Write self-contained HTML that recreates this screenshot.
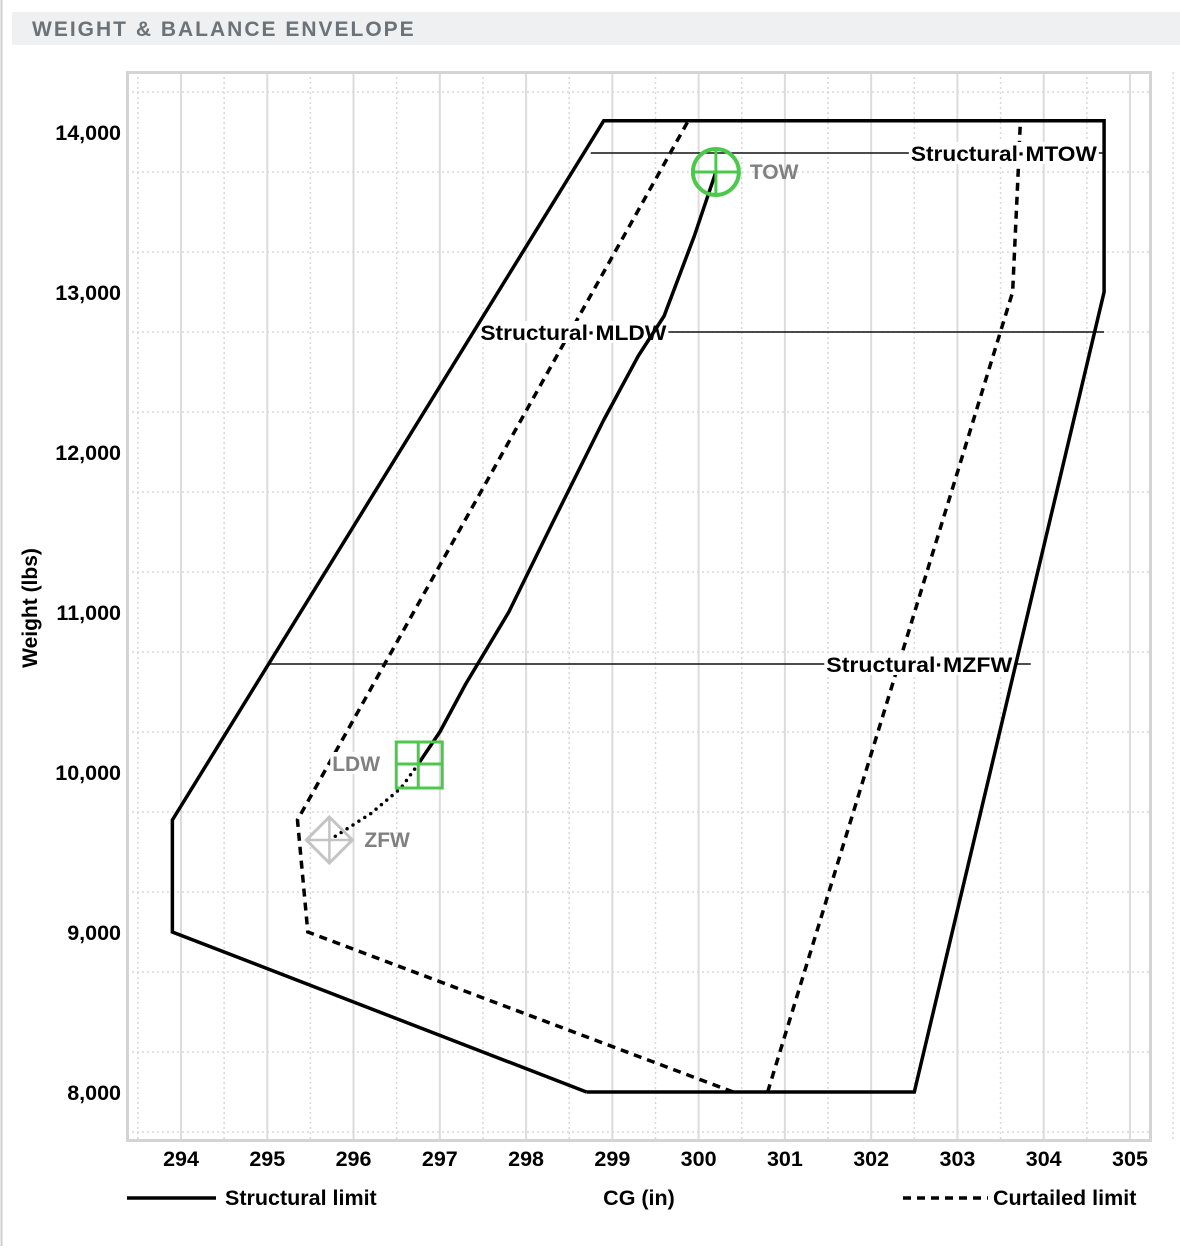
<!DOCTYPE html>
<html><head><meta charset="utf-8"><style>
body{margin:0;background:#fff;width:1180px;height:1246px;overflow:hidden;font-family:"Liberation Sans",Arial,sans-serif}
</style></head><body>
<svg id="chart" width="1180" height="1246" xmlns="http://www.w3.org/2000/svg" font-family="Liberation Sans, Arial, sans-serif">
<line x1="1.5" y1="0" x2="1.5" y2="1246" stroke="#cfcfcf" stroke-width="2"/>
<rect x="12" y="12" width="1168" height="33" fill="#eff0f1"/>
<text x="32" y="36" font-size="21" font-weight="bold" fill="#6b7278" letter-spacing="2">WEIGHT &amp; BALANCE ENVELOPE</text>
<g id="grid"></g>
<rect x="127.5" y="72.5" width="1023" height="1068" fill="none" stroke="#d4d4d4" stroke-width="3"/>
<g id="marks"></g>
<text transform="translate(37,608) rotate(-90)" text-anchor="middle" font-size="21" font-weight="bold">Weight (lbs)</text>
<text x="639" y="1205" text-anchor="middle" font-size="21.5" font-weight="bold">CG (in)</text>
<g><line x1="127" y1="1198" x2="216" y2="1198" stroke="#000" stroke-width="3.5"/><text x="225" y="1205" font-size="21.5" font-weight="bold">Structural limit</text></g>
<g><line x1="903" y1="1198" x2="988" y2="1198" stroke="#000" stroke-width="3.5" stroke-dasharray="8,6"/><text x="993" y="1205" font-size="21.5" font-weight="bold">Curtailed limit</text></g>
</svg>
<script>
const xTicks=[294,295,296,297,298,299,300,301,302,303,304,305];
const yTicks=[8000,9000,10000,11000,12000,13000,14000];
const structuralCG=[298.7,302.5,304.7,304.7,298.9,293.9,293.9,298.7];
const structuralW=[8000,8000,13000,14070,14070,9700,9000,8000];
const curtFwdCG=[300.4,295.47,295.35,299.88];
const curtFwdW=[8000,9000,9700,14070];
const curtAftCG=[300.8,303.64,303.7,303.73];
const curtAftW=[8000,13000,13700,14070];
const limitNames=["Structural·MTOW","Structural·MLDW","Structural·MZFW"];
const limitW=[13869,12750,10675];
const limitFrom=[298.75,297.5,295.0];
const limitTo=[304.7,304.7,303.85];
const limitLabelCG=[302.46,297.47,301.48];
const flightCG=[296.75,297.0,297.3,297.8,298.3,298.9,299.3,299.6,299.95,300.2];
const flightW=[10050,10250,10550,11000,11550,12200,12600,12850,13350,13750];
const fuelCG=[295.72,296.2,296.55,296.75];
const fuelW=[9575,9740,9900,10050];
const pointNames=["TOW","LDW","ZFW"];
const pointCG=[300.2,296.75,295.72];
const pointW=[13750,10050,9575];

const X=v=>181+(v-294)*86.27;
const Y=v=>1092-(v-8000)*0.16;
const NS="http://www.w3.org/2000/svg";
function mk(p,tag,a){const e=document.createElementNS(NS,tag);for(const k in a)e.setAttribute(k,a[k]);p.appendChild(e);return e;}
const svg=document.getElementById('chart');
const grid=document.getElementById('grid');
const marks=document.getElementById('marks');
for(let v=293.5;v<=305.6;v+=0.5){
  const solid=Math.abs(v-Math.round(v))<0.01;
  const l=mk(grid,'line',{x1:X(v),x2:X(v),y1:72,y2:1141,stroke:solid?'#dcdcdc':'#d8d8d8','stroke-width':solid?2:1.5,'stroke-dasharray':solid?'':'2,3'});
  
  
}
for(let w=7750;w<=14375;w+=500){
  const solid=w%1000===0;
  const l=mk(grid,'line',{x1:127,x2:1151,y1:Y(w),y2:Y(w),stroke:solid?'#dcdcdc':'#d8d8d8','stroke-width':solid?2:1.5,'stroke-dasharray':solid?'':'2,3'});
  
  
}
xTicks.forEach(v=>{
  const t=mk(svg,'text',{x:X(v),y:1166,'text-anchor':'middle','font-size':21.5,'font-weight':'bold'});
  t.textContent=v;
  
  
});
yTicks.forEach(v=>{
  const t=mk(svg,'text',{x:121,y:Y(v)+8,'text-anchor':'end','font-size':21.5,'font-weight':'bold'});
  t.textContent=v.toLocaleString('en-US');
  
  
});
function pts(cs,ws){return cs.map((c,i)=>X(c)+','+Y(ws[i])).join(' ');}
let e;
e=mk(marks,'polyline',{points:pts(curtFwdCG,curtFwdW),fill:'none',stroke:'#000','stroke-width':3.5,'stroke-dasharray':'8,6'});


e=mk(marks,'polyline',{points:pts(curtAftCG,curtAftW),fill:'none',stroke:'#000','stroke-width':3.5,'stroke-dasharray':'8,6'});


limitNames.forEach((n,i)=>{
  const l=mk(marks,'line',{x1:X(limitFrom[i]),x2:X(limitTo[i]),y1:Y(limitW[i]),y2:Y(limitW[i]),stroke:'#111','stroke-width':1.5});
  
  
  const tx=X(limitLabelCG[i]);
  const bg=mk(marks,'rect',{x:tx-2,y:Y(limitW[i])-11,width:190,height:22,fill:'#fff'});
  
  
  const t=mk(marks,'text',{x:tx,y:Y(limitW[i])+8,'font-size':21,'font-weight':'bold',textLength:186,lengthAdjust:'spacingAndGlyphs'});
  t.textContent=n;
  
  
});
e=mk(marks,'polyline',{points:pts(structuralCG,structuralW),fill:'none',stroke:'#000','stroke-width':3.5,'stroke-linejoin':'miter'});


e=mk(marks,'polyline',{points:pts(flightCG,flightW),fill:'none',stroke:'#000','stroke-width':3.5,'stroke-linejoin':'round'});


e=mk(marks,'polyline',{points:pts(fuelCG,fuelW),fill:'none',stroke:'#000','stroke-width':3.5,'stroke-dasharray':'0,7','stroke-linecap':'round'});


{const cx=X(pointCG[0]),cy=Y(pointW[0]);
 const g=mk(marks,'g',{});
 
 
 mk(g,'circle',{cx:cx,cy:cy,r:23,fill:'none',stroke:'#4cc94c','stroke-width':4});
 mk(g,'line',{x1:cx-23,x2:cx+23,y1:cy,y2:cy,stroke:'#4cc94c','stroke-width':3});
 mk(g,'line',{x1:cx,x2:cx,y1:cy-23,y2:cy+23,stroke:'#4cc94c','stroke-width':3});
 const t=mk(marks,'text',{x:cx+34,y:cy+7,'font-size':21,'font-weight':'bold',fill:'#808080'});t.textContent=pointNames[0];
 
 }
{const cx=X(pointCG[1]),cy=Y(pointW[1]);
 const g=mk(marks,'g',{});
 
 
 mk(g,'rect',{x:cx-22,y:cy-22,width:46,height:46,fill:'none',stroke:'#4cc94c','stroke-width':3});
 mk(g,'line',{x1:cx-22,x2:cx+24,y1:cy,y2:cy,stroke:'#4cc94c','stroke-width':3});
 mk(g,'line',{x1:cx,x2:cx,y1:cy-22,y2:cy+24,stroke:'#4cc94c','stroke-width':3});
 const bg=mk(marks,'rect',{x:cx-88,y:cy-12,width:54,height:22,fill:'#fff'});
 
 
 const t=mk(marks,'text',{x:cx-86,y:cy+7,'font-size':21,'font-weight':'bold',fill:'#808080'});t.textContent=pointNames[1];
 
 }
{const cx=X(pointCG[2]),cy=Y(pointW[2]);
 const g=mk(marks,'g',{});
 
 
 mk(g,'polygon',{points:`${cx},${cy-23} ${cx+23},${cy} ${cx},${cy+23} ${cx-23},${cy}`,fill:'none',stroke:'#c4c4c4','stroke-width':3});
 mk(g,'line',{x1:cx-23,x2:cx+23,y1:cy,y2:cy,stroke:'#c4c4c4','stroke-width':2.5});
 mk(g,'line',{x1:cx,x2:cx,y1:cy-23,y2:cy+23,stroke:'#c4c4c4','stroke-width':2.5});
 const t=mk(marks,'text',{x:cx+35,y:cy+7,'font-size':21,'font-weight':'bold',fill:'#808080'});t.textContent=pointNames[2];
 
 }
</script>
</body></html>
